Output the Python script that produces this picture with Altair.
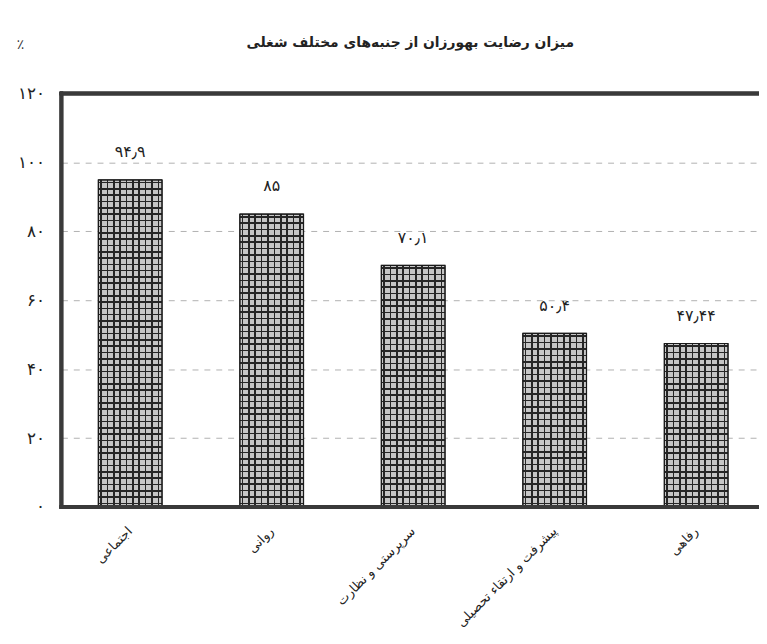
import altair as alt
import pandas as pd

categories = ["اجتماعی", "روانی", "سرپرستی و نظارت", "پیشرفت و ارتقاء تحصیلی", "رفاهی"]
values = [94.9, 85, 70.1, 50.4, 47.44]
value_labels = ["۹۴٫۹", "۸۵", "۷۰٫۱", "۵۰٫۴", "۴۷٫۴۴"]
tick_values = [0, 20, 40, 60, 80, 100, 120]
tick_labels = ["۰", "۲۰", "۴۰", "۶۰", "۸۰", "۱۰۰", "۱۲۰"]
title_text = "میزان رضایت بهورزان از جنبه‌های مختلف شغلی"
y_title = "٪"

df = pd.DataFrame({"cat": categories, "val": values, "lab": value_labels})

label_map = ",".join(f"'{v}':'{l}'" for v, l in zip(tick_values, tick_labels))
label_expr = "{" + label_map + "}[datum.label]"

W = 711
H = 418
FONT = "DejaVu Sans"
FRAME = "#3a3a3a"
BG = "#c6c6c6"
LINE = "#262626"
CLEAR = "rgba(0,0,0,0)"


def stripes(n, base, line, frac, vertical):
    st = [alt.GradientStop(color=base, offset=0)]
    for i in range(n):
        a = (i + 0.3) / n
        b = min(a + frac, 1)
        st += [
            alt.GradientStop(color=base, offset=a),
            alt.GradientStop(color=line, offset=a),
            alt.GradientStop(color=line, offset=b),
            alt.GradientStop(color=base, offset=b),
        ]
    st.append(alt.GradientStop(color=base, offset=1))
    if vertical:
        return alt.Gradient(gradient="linear", stops=st, x1=0, x2=1, y1=0, y2=0)
    return alt.Gradient(gradient="linear", stops=st, x1=0, x2=0, y1=0, y2=1)


xenc = alt.X(
    "cat:N",
    sort=None,
    scale=alt.Scale(range=[0, W], paddingInner=0.55, paddingOuter=0.261),
    axis=alt.Axis(
        title=None, domain=False, ticks=False, labelAngle=-45, labelAlign="right",
        labelBaseline="middle", labelPadding=22, labelFontSize=13, labelFont=FONT,
        labelColor="#222", labelLimit=300,
    ),
)
yscale = alt.Scale(domain=[0, 120], nice=False)

bars = alt.Chart(df).mark_bar(
    color=stripes(10, BG, LINE, 0.025, True), stroke="#1a1a1a", strokeWidth=1
).encode(
    x=xenc,
    y=alt.Y(
        "val:Q",
        scale=yscale,
        axis=alt.Axis(
            values=tick_values, labelExpr=label_expr, grid=True, gridDash=[6, 6],
            gridColor="#b0b0b0", gridWidth=1, domain=False, ticks=False,
            labelPadding=17, labelFontSize=17, labelFont=FONT, labelColor="#222",
            title=y_title, titleAngle=0, titleX=-42, titleY=-42, titleFontSize=14,
            titleFont=FONT, titleFontWeight="normal", titleColor="#333",
        ),
    ),
)

hlayers = []
for c, v in zip(categories, values):
    px = v / 120 * H
    n = max(1, round(px / 6.4))
    frac = 1.6 / px
    hlayers.append(
        alt.Chart(df)
        .transform_filter(alt.datum.cat == c)
        .mark_bar(color=stripes(n, CLEAR, LINE, frac, False))
        .encode(x=xenc, y=alt.Y("val:Q", scale=yscale))
    )

outline = alt.Chart(df).mark_bar(fill=None, stroke="#1a1a1a", strokeWidth=1.2).encode(
    x=xenc, y=alt.Y("val:Q", scale=yscale)
)

texts = alt.Chart(df).mark_text(dy=-28, fontSize=16, font=FONT, color="#222").encode(
    x=xenc, y=alt.Y("val:Q", scale=yscale), text="lab:N"
)

left = alt.Chart(df).mark_rule(color=FRAME, strokeWidth=3.5, strokeCap="square").encode(
    x=alt.value(0), y=alt.datum(0, scale=yscale), y2=alt.datum(120)
)
bottom = alt.Chart(df).mark_rule(color=FRAME, strokeWidth=3.5, strokeCap="square").encode(
    y=alt.datum(0, scale=yscale), x=alt.value(0), x2=alt.value(W)
)
top = alt.Chart(df).mark_rule(color=FRAME, strokeWidth=3.5, strokeCap="square").encode(
    y=alt.datum(120, scale=yscale), x=alt.value(0), x2=alt.value(W)
)

chart = (
    alt.layer(bars, *hlayers, outline, texts, left, bottom, top)
    .properties(
        width=705,
        height=H,
        title=alt.TitleParams(
            title_text, fontSize=14, font=FONT, fontWeight="bold", color="#222",
            anchor="middle", offset=-12,
        ),
        autosize=alt.AutoSizeParams(type="none"),
        padding={"left": 54, "top": 83, "right": 0, "bottom": 125},
    )
    .configure_view(stroke=None)
    .configure(background="white")
)

chart.save("out.html", embed_options={"renderer": "svg", "actions": False})
